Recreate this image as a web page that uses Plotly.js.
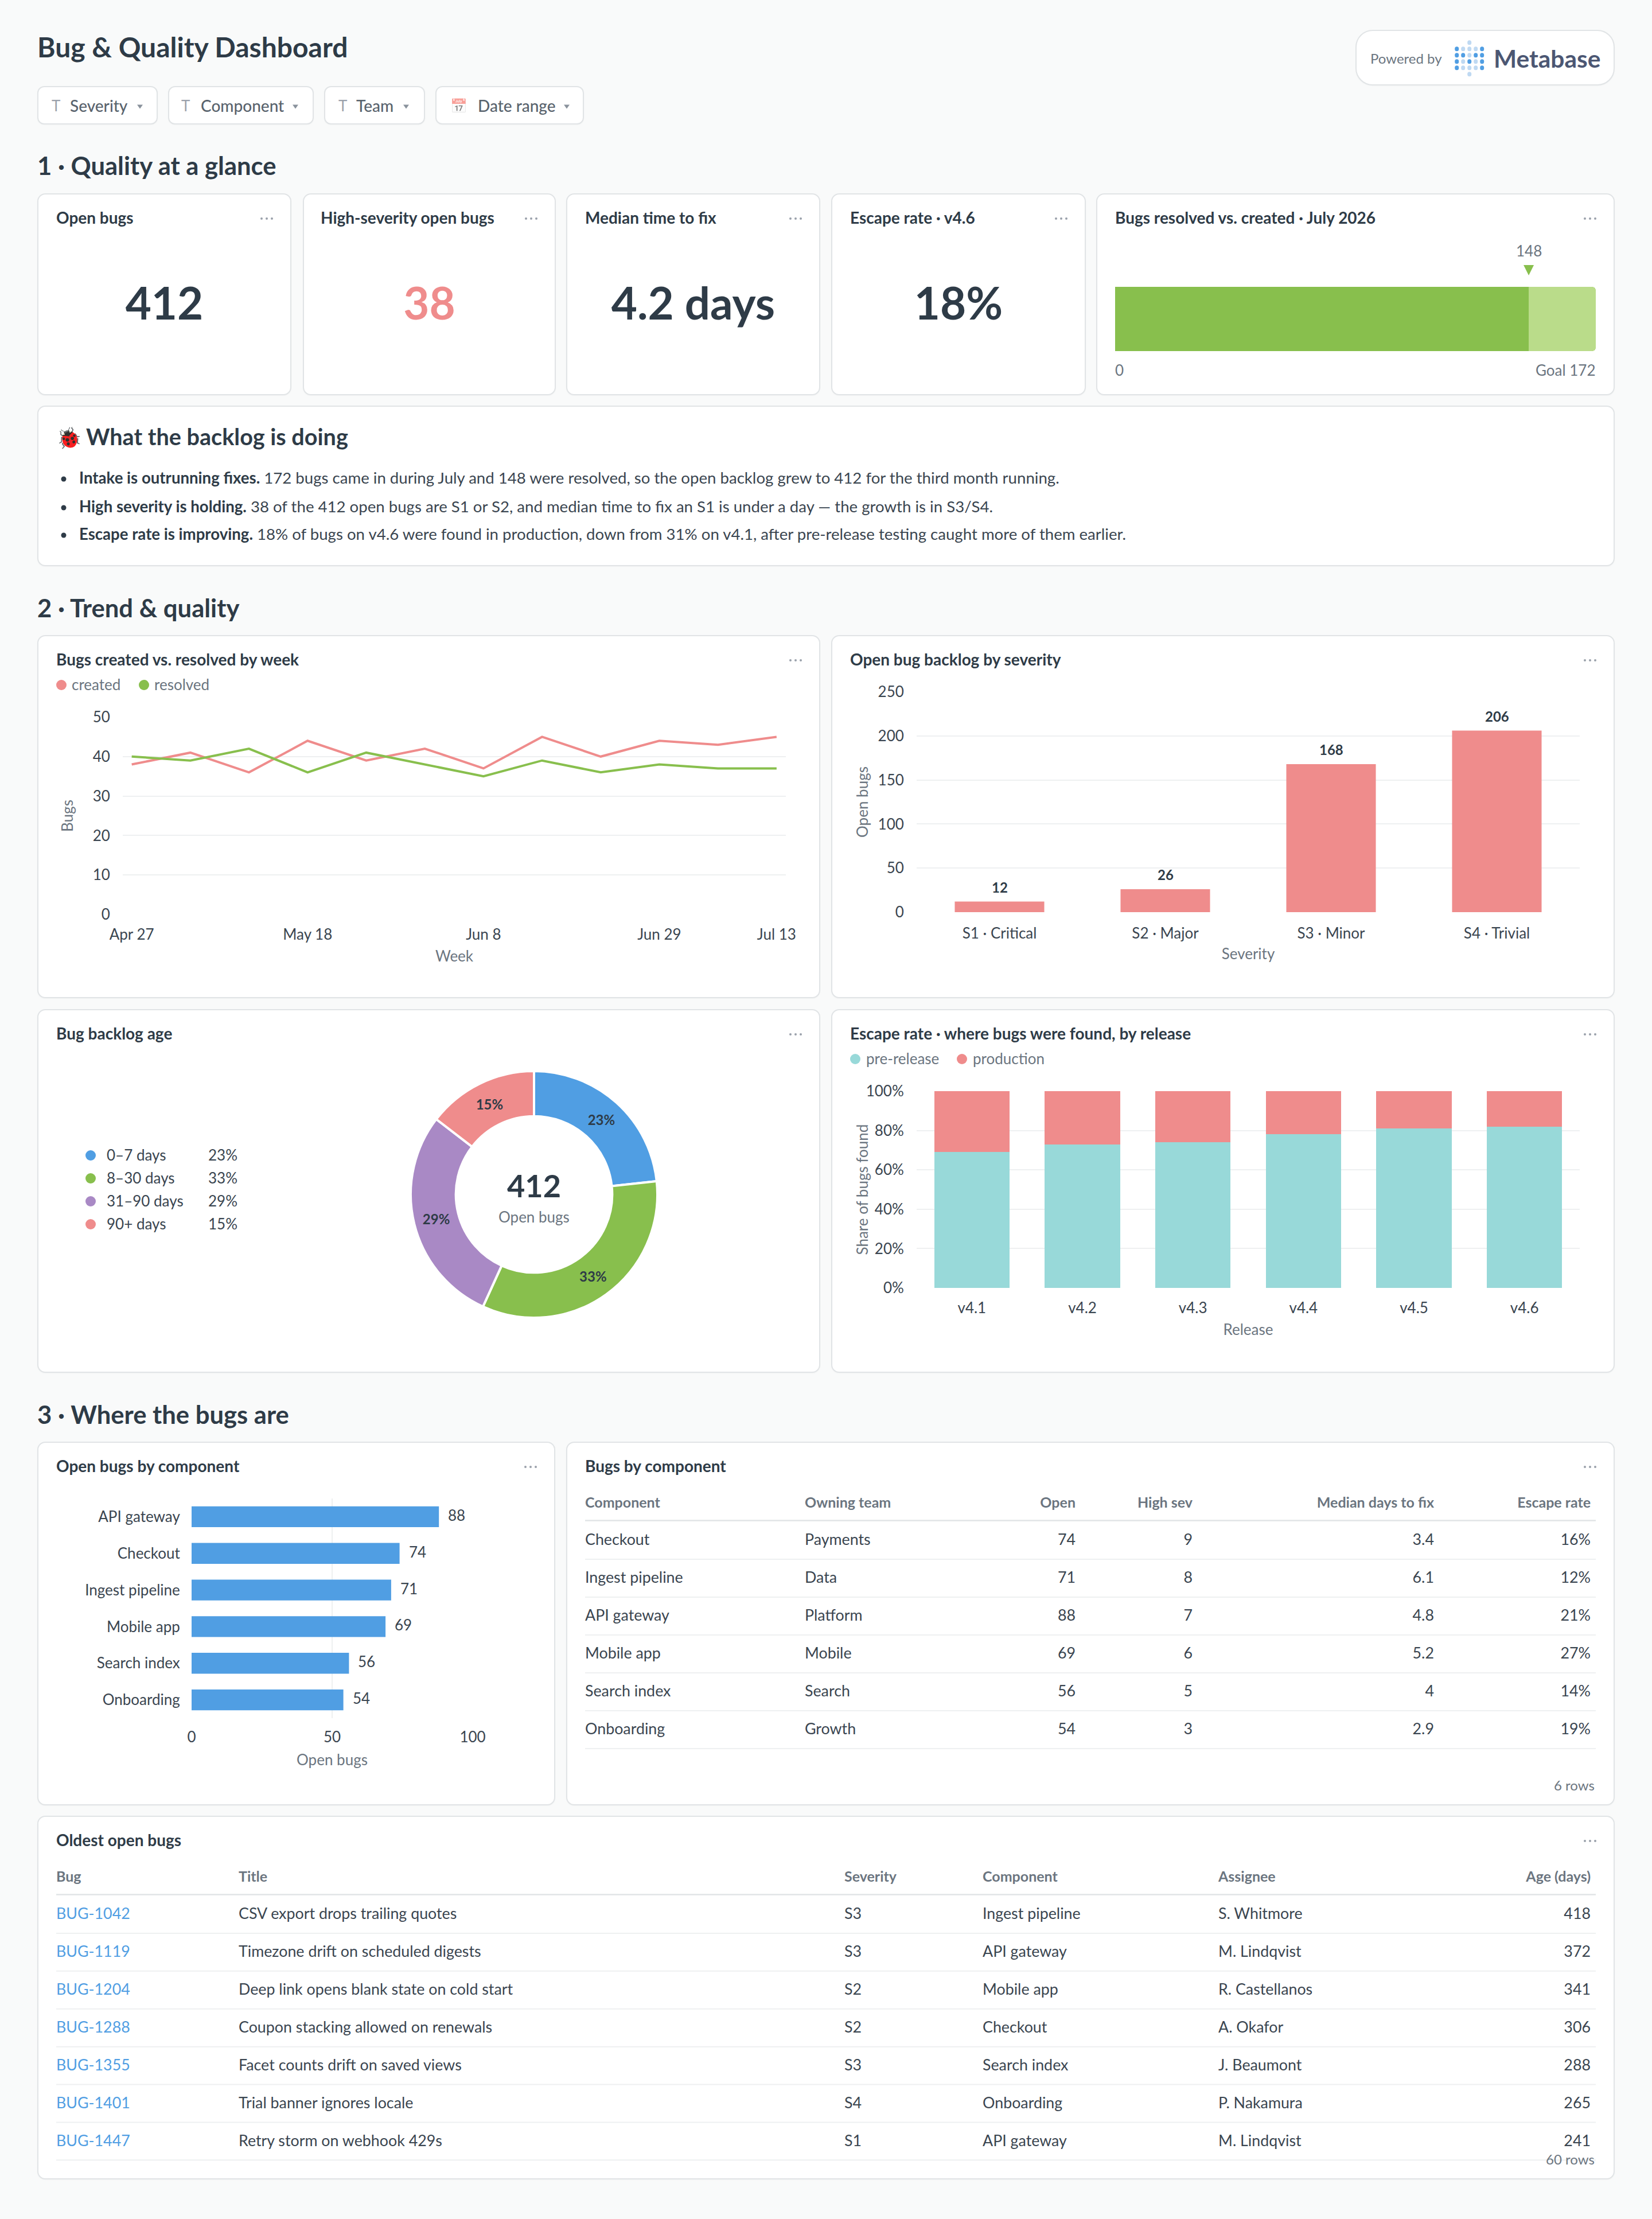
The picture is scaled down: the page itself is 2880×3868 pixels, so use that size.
<!DOCTYPE html>
<html><head><meta charset="utf-8">
<script src="https://cdn.plot.ly/plotly-3.0.1.min.js"></script>
<style>
html,body{margin:0;padding:0;background:#f9fafa;}
body{position:relative;width:2880px;height:3868px;overflow:hidden;font-family:Lato,sans-serif;color:#2e3b47;}
.card{position:absolute;box-sizing:border-box;background:#fff;border:2px solid #e1e4e6;border-radius:14px;box-shadow:0 1px 2px rgba(0,0,0,.03);}
.t{position:absolute;white-space:nowrap;line-height:1;transform:translateY(-50%);}
.plot{position:absolute;}
.dot{position:absolute;border-radius:50%;transform:translate(-50%,-50%);}
.caret{position:absolute;width:0;height:0;border-left:5px solid transparent;border-right:5px solid transparent;border-top:7px solid #8a929c;transform:translate(-50%,-50%);}
</style></head><body>
<script>
// ---------- chart data ----------
const weeks = ['Apr 27','May 4','May 11','May 18','May 25','Jun 1','Jun 8','Jun 15','Jun 22','Jun 29','Jul 6','Jul 13'];
const createdByWeek  = [38,41,36,44,39,42,37,45,40,44,43,45];
const resolvedByWeek = [40,39,42,36,41,38,35,39,36,38,37,37];
const weekTicks = ['Apr 27','May 18','Jun 8','Jun 29','Jul 13'];
const severities = ['S1 · Critical','S2 · Major','S3 · Minor','S4 · Trivial'];
const openBySeverity = [12,26,168,206];
const ageBuckets = ['0–7 days','8–30 days','31–90 days','90+ days'];
const ageCounts = [96,138,118,60];
const agePct = ['23%','33%','29%','15%'];
const releases = ['v4.1','v4.2','v4.3','v4.4','v4.5','v4.6'];
const preRelease = [69,73,74,78,81,82];
const production = [31,27,26,22,19,18];
const shareTicks = ['0%','20%','40%','60%','80%','100%'];
const barComponents = ['API gateway','Checkout','Ingest pipeline','Mobile app','Search index','Onboarding'];
const barOpen = [88,74,71,69,56,54];
const resolvedJuly = 148;
const goalJuly = 172;
// bugs-by-component table
const tcComponent = ['Checkout','Ingest pipeline','API gateway','Mobile app','Search index','Onboarding'];
const tcTeam = ['Payments','Data','Platform','Mobile','Search','Growth'];
const tcOpen = ['74','71','88','69','56','54'];
const tcHigh = ['9','8','7','6','5','3'];
const tcMedian = ['3.4','6.1','4.8','5.2','4','2.9'];
const tcEscape = ['16%','12%','21%','27%','14%','19%'];
// oldest bugs table
const tbBug = ['BUG-1042','BUG-1119','BUG-1204','BUG-1288','BUG-1355','BUG-1401','BUG-1447'];
const tbTitle = ['CSV export drops trailing quotes','Timezone drift on scheduled digests','Deep link opens blank state on cold start','Coupon stacking allowed on renewals','Facet counts drift on saved views','Trial banner ignores locale','Retry storm on webhook 429s'];
const tbSeverity = ['S3','S3','S2','S2','S3','S4','S1'];
const tbComponent = ['Ingest pipeline','API gateway','Mobile app','Checkout','Search index','Onboarding','API gateway'];
const tbAssignee = ['S. Whitmore','M. Lindqvist','R. Castellanos','A. Okafor','J. Beaumont','P. Nakamura','M. Lindqvist'];
const tbAge = ['418','372','341','306','288','265','241'];

// ---------- style ----------
const DARK='#2e3b47', TEXT='#3a4550', GREY='#6b7580', GRID='#eef0f1';
const RED='#EF8C8C', GREEN='#88BF4D', BLUE='#509EE3', PURPLE='#A989C5', TEAL='#98D9D9', LGREEN='#BADC8A';
const FONT='Lato, sans-serif';
const body=document.body;
function el(cls,css,html){const d=document.createElement('div');d.className=cls;Object.assign(d.style,css);if(html!==undefined)d.innerHTML=html;body.appendChild(d);return d;}
function card(x0,y0,x1,y1){el('card',{left:x0+'px',top:y0+'px',width:(x1-x0)+'px',height:(y1-y0)+'px'});}
function txt(x,y,s,o={}){const css={top:y+'px',fontSize:(o.size||28)+'px',fontWeight:o.weight||400,color:o.color||TEXT};
  if(o.opacity)css.opacity=o.opacity;
  if(o.align==='right')css.right=(2880-x)+'px';else if(o.align==='center'){css.left=x+'px';css.transform='translate(-50%,-50%)';}else css.left=x+'px';
  return el('t',css,s);}
function dot(x,y,c,d=18){el('dot',{left:x+'px',top:y+'px',width:d+'px',height:d+'px',background:c});}
function menu(xr,y){[-9,0,9].forEach(o=>dot(xr-12+o,y,'#9aa1ab',4));}
function title(x,y,s,xr){txt(x,y-2,s,{size:28,weight:700,color:DARK});menu(xr,y);}
function plotDiv(x0,y0,x1,y1){return el('plot',{left:x0+'px',top:y0+'px',width:(x1-x0)+'px',height:(y1-y0)+'px'});}
const CFG={staticPlot:true,displayModeBar:false,responsive:false};
function base(w,h,m){return {width:w,height:h,margin:Object.assign({pad:0,autoexpand:false},m),paper_bgcolor:'rgba(0,0,0,0)',plot_bgcolor:'rgba(0,0,0,0)',showlegend:false,hovermode:false,font:{family:FONT,size:26,color:TEXT}};}
function axisTitle(s,standoff){return {text:s,standoff:standoff,font:{family:FONT,size:26,color:GREY}};}

// ---------- header ----------
txt(65,82,'Bug &amp; Quality Dashboard',{size:48,weight:700,color:DARK});
[[65,275,'T','Severity',90,122,244],[293,547,'T','Component',316,350,515],[565,741,'T','Team',590,621,708],[759,1018,'📅','Date range',785,833,988]].forEach(c=>{
  el('card',{left:c[0]+'px',top:'150px',width:(c[1]-c[0])+'px',height:'67px',borderRadius:'12px'});
  txt(c[4],184,c[2],c[2]==='T'?{size:26,color:'#9aa1ab'}:{size:24,opacity:.5});
  txt(c[5],184,c[3],{size:28,weight:500,color:'#59636d'});
  el('caret',{left:c[6]+'px',top:'186px'});
});
el('card',{left:'2363px',top:'52px',width:'452px',height:'97px',borderRadius:'30px'});
txt(2389,102,'Powered by',{size:24,color:GREY});
const logoPattern=['..l..','DlllD','DDlDD','DlDlD','DlllD','..l..'];
logoPattern.forEach((r,i)=>[...r].forEach((c,j)=>{if(c!=='.')dot(2539.7+j*11,74.3+i*11,c==='D'?BLUE:'#BFD9F2',7.6);}));
txt(2604,102,'Metabase',{size:42.5,weight:700,color:'#4c5773'});

txt(65,289,'1 · Quality at a glance',{size:43.6,weight:700,color:DARK});
txt(65,1060,'2 · Trend &amp; quality',{size:43.6,weight:700,color:DARK});
txt(65,2466,'3 · Where the bugs are',{size:43.6,weight:700,color:DARK});

// ---------- KPI cards ----------
[[65,508,'Open bugs','412',DARK,98],[528,969,'High-severity open bugs','38',RED,559],[987,1430,'Median time to fix','4.2 days',DARK,1020],[1449,1893,'Escape rate · v4.6','18%',DARK,1482]].forEach(k=>{
  card(k[0],337,k[1],689);
  title(k[5],381,k[2],k[1]-31);
  txt((k[0]+k[1])/2,527,k[3],{size:78,weight:700,color:k[4],align:'center'});
});
card(1911,337,2815,689);
title(1944,381,'Bugs resolved vs. created · July 2026',2784);
(function(){
  const x0=1944,x1=2782,y0=420,y1=660;
  const d=plotDiv(x0,y0,x1,y1);
  const L=base(x1-x0,y1-y0,{l:0,r:0,t:80,b:48});
  Object.assign(L,{barmode:'stack',bargap:0,barcornerradius:6,
    xaxis:{range:[0,goalJuly],visible:false,fixedrange:true},
    yaxis:{range:[-0.5,0.5],visible:false,fixedrange:true},
    shapes:[{type:'path',xref:'x',yref:'paper',xsizemode:'pixel',ysizemode:'pixel',xanchor:resolvedJuly,yanchor:1,path:'M-9,38 L9,38 L0,20 Z',fillcolor:GREEN,line:{width:0}}],
    annotations:[
      {xref:'x',yref:'paper',x:resolvedJuly,y:1,yanchor:'middle',yshift:63,showarrow:false,text:String(resolvedJuly),font:{size:26,color:GREY}},
      {xref:'x',yref:'paper',x:0,y:0,yanchor:'middle',yshift:-33,xanchor:'left',xshift:-2,showarrow:false,text:'0',font:{size:26,color:GREY}},
      {xref:'x',yref:'paper',x:goalJuly,y:0,yanchor:'middle',yshift:-33,xanchor:'right',xshift:2,showarrow:false,text:'Goal '+goalJuly,font:{size:26,color:GREY}}]});
  Plotly.newPlot(d,[
    {type:'bar',orientation:'h',y:[0],x:[resolvedJuly],marker:{color:GREEN,line:{width:0}},name:'resolved'},
    {type:'bar',orientation:'h',y:[0],x:[goalJuly-resolvedJuly],marker:{color:LGREEN,line:{width:0}},name:'remaining'}],L,CFG);
})();

// ---------- narrative ----------
card(65,707,2815,987);
txt(98,762,'🐞',{size:36});
txt(150,761,'What the backlog is doing',{size:39.6,weight:700,color:DARK});
[[835,'Intake is outrunning fixes.',' 172 bugs came in during July and 148 were resolved, so the open backlog grew to 412 for the third month running.'],
 [885,'High severity is holding.',' 38 of the 412 open bugs are S1 or S2, and median time to fix an S1 is under a day — the growth is in S3/S4.'],
 [933,'Escape rate is improving.',' 18% of bugs on v4.6 were found in production, down from 31% on v4.1, after pre-release testing caught more of them earlier.']].forEach(b=>{
  dot(110.5,b[0],DARK,9);
  txt(138,b[0]-2,'<b style="font-weight:700;color:'+DARK+'">'+b[1]+'</b>'+b[2],{size:27.6});
});

// ---------- row 2 ----------
card(65,1107,1430,1740);card(1449,1107,2815,1740);
title(98,1151,'Bugs created vs. resolved by week',1399);
title(1482,1151,'Open bug backlog by severity',2784);
dot(106.5,1194,RED);txt(125,1193,'created',{size:26,color:GREY});
dot(250.7,1194,GREEN);txt(269,1193,'resolved',{size:26,color:GREY});

(function(){
  const x0=65,x1=1430,y0=1107,y1=1740;
  const d=plotDiv(x0,y0,x1,y1);
  const L=base(x1-x0,y1-y0,{l:149,r:60,t:143,b:146});
  L.xaxis={type:'category',categoryorder:'array',categoryarray:weeks,range:[-0.153,11.158],tickmode:'array',tickvals:weekTicks,ticktext:weekTicks,
    showgrid:false,zeroline:false,showline:false,ticks:'outside',ticklen:12,tickcolor:'rgba(0,0,0,0)',tickfont:{size:26,color:TEXT},title:axisTitle('Week',14)};
  L.yaxis={range:[0,50],tickvals:[0,10,20,30,40,50],gridcolor:GRID,gridwidth:2,zeroline:false,showline:false,ticks:'outside',ticklen:16,tickcolor:'rgba(0,0,0,0)',tickfont:{size:26,color:TEXT},title:axisTitle('Bugs',26)};
  Plotly.newPlot(d,[
    {type:'scatter',mode:'lines',x:weeks,y:createdByWeek,name:'created',line:{color:RED,width:4,shape:'linear'},cliponaxis:false},
    {type:'scatter',mode:'lines',x:weeks,y:resolvedByWeek,name:'resolved',line:{color:GREEN,width:4,shape:'linear'},cliponaxis:false}],L,CFG);
})();

(function(){
  const x0=1449,x1=2815,y0=1107,y1=1740;
  const d=plotDiv(x0,y0,x1,y1);
  const L=base(x1-x0,y1-y0,{l:149,r:61,t:99,b:150});
  L.bargap=0.46;
  L.xaxis={type:'category',categoryorder:'array',categoryarray:severities,showgrid:false,zeroline:false,showline:false,ticks:'outside',ticklen:14,tickcolor:'rgba(0,0,0,0)',tickfont:{size:26,color:TEXT},title:axisTitle('Severity',12)};
  L.yaxis={range:[0,250],tickvals:[0,50,100,150,200,250],gridcolor:GRID,gridwidth:2,zeroline:false,showline:false,ticks:'outside',ticklen:16,tickcolor:'rgba(0,0,0,0)',tickfont:{size:26,color:TEXT},title:axisTitle('Open bugs',9)};
  L.annotations=severities.map((s,i)=>({xref:'x',yref:'y',x:s,y:openBySeverity[i],yanchor:'bottom',yshift:9,showarrow:false,text:String(openBySeverity[i]),font:{size:24,weight:700,color:DARK}}));
  Plotly.newPlot(d,[{type:'bar',x:severities,y:openBySeverity,marker:{color:RED,line:{width:0}},name:'Open bugs'}],L,CFG);
})();

// ---------- row 3 ----------
card(65,1759,1430,2393);card(1449,1759,2815,2393);
title(98,1803,'Bug backlog age',1399);
title(1482,1803,'Escape rate · where bugs were found, by release',2784);
const ageColors=[BLUE,GREEN,PURPLE,RED];
ageBuckets.forEach((a,i)=>{const y=2013+i*40;dot(158,y+1,ageColors[i]);txt(186,y,a,{size:26,color:TEXT});txt(414,y,agePct[i],{size:26,color:TEXT,align:'right'});});
(function(){
  const d=plotDiv(716,1867,1146,2297);
  const L=base(430,430,{l:0,r:0,t:0,b:0});
  L.annotations=[
    {xref:'paper',yref:'paper',x:.5,y:.5,yanchor:'middle',yshift:16,showarrow:false,text:'412',font:{size:54,weight:700,color:DARK}},
    {xref:'paper',yref:'paper',x:.5,y:.5,yanchor:'middle',yshift:-39,showarrow:false,text:'Open bugs',font:{size:26,color:GREY}}];
  Plotly.newPlot(d,[{type:'pie',labels:ageBuckets,values:ageCounts,hole:0.634,sort:false,direction:'clockwise',rotation:0,marker:{colors:ageColors,line:{color:'#fff',width:4}},
    textinfo:'percent',textposition:'inside',insidetextorientation:'horizontal',texttemplate:'%{percent:.0%}',textfont:{size:24,weight:700,color:DARK}}],L,CFG);
})();
dot(1490.5,1846,TEAL);txt(1510,1845,'pre-release',{size:26,color:GREY});
dot(1677,1846,RED);txt(1696,1845,'production',{size:26,color:GREY});
(function(){
  const x0=1449,x1=2815,y0=1759,y1=2393;
  const d=plotDiv(x0,y0,x1,y1);
  const L=base(x1-x0,y1-y0,{l:149,r:61,t:143,b:147.5});
  L.barmode='stack';L.bargap=0.32;
  L.xaxis={type:'category',categoryorder:'array',categoryarray:releases,showgrid:false,zeroline:false,showline:false,ticks:'outside',ticklen:12,tickcolor:'rgba(0,0,0,0)',tickfont:{size:26,color:TEXT},title:axisTitle('Release',14)};
  L.yaxis={range:[0,100],tickmode:'array',tickvals:[0,20,40,60,80,100],ticktext:shareTicks,gridcolor:GRID,gridwidth:2,zeroline:false,showline:false,ticks:'outside',ticklen:16,tickcolor:'rgba(0,0,0,0)',tickfont:{size:26,color:TEXT}};
  L.annotations=[{xref:'paper',yref:'paper',x:(1502-1598)/1156,y:.5,xanchor:'center',yanchor:'middle',textangle:-90,showarrow:false,text:'Share of bugs found',font:{size:26,color:GREY}}];
  Plotly.newPlot(d,[
    {type:'bar',x:releases,y:preRelease,name:'pre-release',marker:{color:TEAL,line:{width:0}}},
    {type:'bar',x:releases,y:production,name:'production',marker:{color:RED,line:{width:0}}}],L,CFG);
})();

// ---------- row 4 ----------
card(65,2513,968,3147);card(987,2513,2815,3147);
title(98,2557,'Open bugs by component',937);
title(1020,2557,'Bugs by component',2784);
(function(){
  const x0=65,x1=968,y0=2513,y1=3147;
  const d=plotDiv(x0,y0,x1,y1);
  const L=base(x1-x0,y1-y0,{l:268.5,r:144,t:99,b:152});
  L.bargap=0.43;
  L.xaxis={range:[0,100],tickvals:[0,50,100],gridcolor:GRID,gridwidth:2,zeroline:false,showline:false,ticks:'outside',ticklen:10,tickcolor:'rgba(0,0,0,0)',tickfont:{size:26,color:TEXT},title:axisTitle('Open bugs',16)};
  L.yaxis={type:'category',categoryorder:'array',categoryarray:barComponents,autorange:'reversed',showgrid:false,zeroline:false,showline:false,ticks:'outside',ticklen:14,tickcolor:'rgba(0,0,0,0)',tickfont:{size:26,color:TEXT}};
  L.annotations=barComponents.map((c,i)=>({xref:'x',yref:'y',x:barOpen[i],y:c,xanchor:'left',xshift:14,yshift:3,showarrow:false,text:String(barOpen[i]),font:{size:26,color:TEXT}}));
  Plotly.newPlot(d,[{type:'bar',orientation:'h',y:barComponents,x:barOpen,marker:{color:BLUE,line:{width:0}},name:'Open bugs'}],L,CFG);
})();

function tableChart(rect,cols,opt){
  const [x0,y0,x1,y1]=rect, w=x1-x0,h=y1-y0;
  const d=plotDiv(x0,y0,x1,y1);
  const L=base(w,h,{l:0,r:0,t:0,b:0});
  const p=opt.rowH, rowTop=opt.firstRowY;
  const n=cols[0].values.length;
  L.xaxis={range:[x0,x1],visible:false,fixedrange:true};
  L.yaxis={range:[(y1-rowTop)/p,(y0-rowTop)/p],visible:false,fixedrange:true};
  const rowIdx=cols[0].values.map((_,i)=>i);
  const lift=1.5/p;
  const traces=[];
  cols.forEach(c=>{
    const tp=c.align==='right'?'middle left':'middle right';
    traces.push({type:'scatter',mode:'text',x:rowIdx.map(()=>c.x),y:rowIdx.map(i=>i+lift),text:c.values,textposition:tp,cliponaxis:false,textfont:{size:26.8,color:c.color||TEXT}});
    traces.push({type:'scatter',mode:'text',x:[c.x],y:[(opt.headerY-rowTop)/p],text:[c.name],textposition:tp,cliponaxis:false,textfont:{size:25,weight:700,color:GREY}});
  });
  L.shapes=[{type:'line',xref:'x',yref:'y',x0:opt.ruleX0,x1:opt.ruleX1,y0:(opt.headerRuleY-rowTop)/p,y1:(opt.headerRuleY-rowTop)/p,line:{color:'#e1e4e6',width:2.5}}];
  for(let i=0;i<n;i++)L.shapes.push({type:'line',xref:'x',yref:'y',x0:opt.ruleX0,x1:opt.ruleX1,y0:i+0.5,y1:i+0.5,line:{color:GRID,width:2}});
  L.annotations=[{xref:'x',yref:'y',x:opt.ruleX1,y:(opt.footY-rowTop)/p,xanchor:'right',yanchor:'middle',showarrow:false,text:opt.foot,font:{size:24,color:GREY}}];
  Plotly.newPlot(d,traces,L,CFG);
}
tableChart([987,2513,2815,3147],[
  {name:'Component',values:tcComponent,x:1020},
  {name:'Owning team',values:tcTeam,x:1403},
  {name:'Open',values:tcOpen,x:1875,align:'right'},
  {name:'High sev',values:tcHigh,x:2079,align:'right'},
  {name:'Median days to fix',values:tcMedian,x:2500,align:'right'},
  {name:'Escape rate',values:tcEscape,x:2773,align:'right'}],
  {rowH:66,firstRowY:2685,headerY:2622,headerRuleY:2650.5,ruleX0:1020,ruleX1:2782,footY:3111,foot:'6 rows'});

card(65,3165,2815,3799);
title(98,3209,'Oldest open bugs',2784);
tableChart([65,3165,2815,3799],[
  {name:'Bug',values:tbBug,x:98,color:BLUE},
  {name:'Title',values:tbTitle,x:416},
  {name:'Severity',values:tbSeverity,x:1472},
  {name:'Component',values:tbComponent,x:1713},
  {name:'Assignee',values:tbAssignee,x:2124},
  {name:'Age (days)',values:tbAge,x:2773,align:'right'}],
  {rowH:65.9,firstRowY:3337,headerY:3274,headerRuleY:3302.5,ruleX0:98,ruleX1:2782,footY:3763,foot:'60 rows'});
</script>
</body></html>
